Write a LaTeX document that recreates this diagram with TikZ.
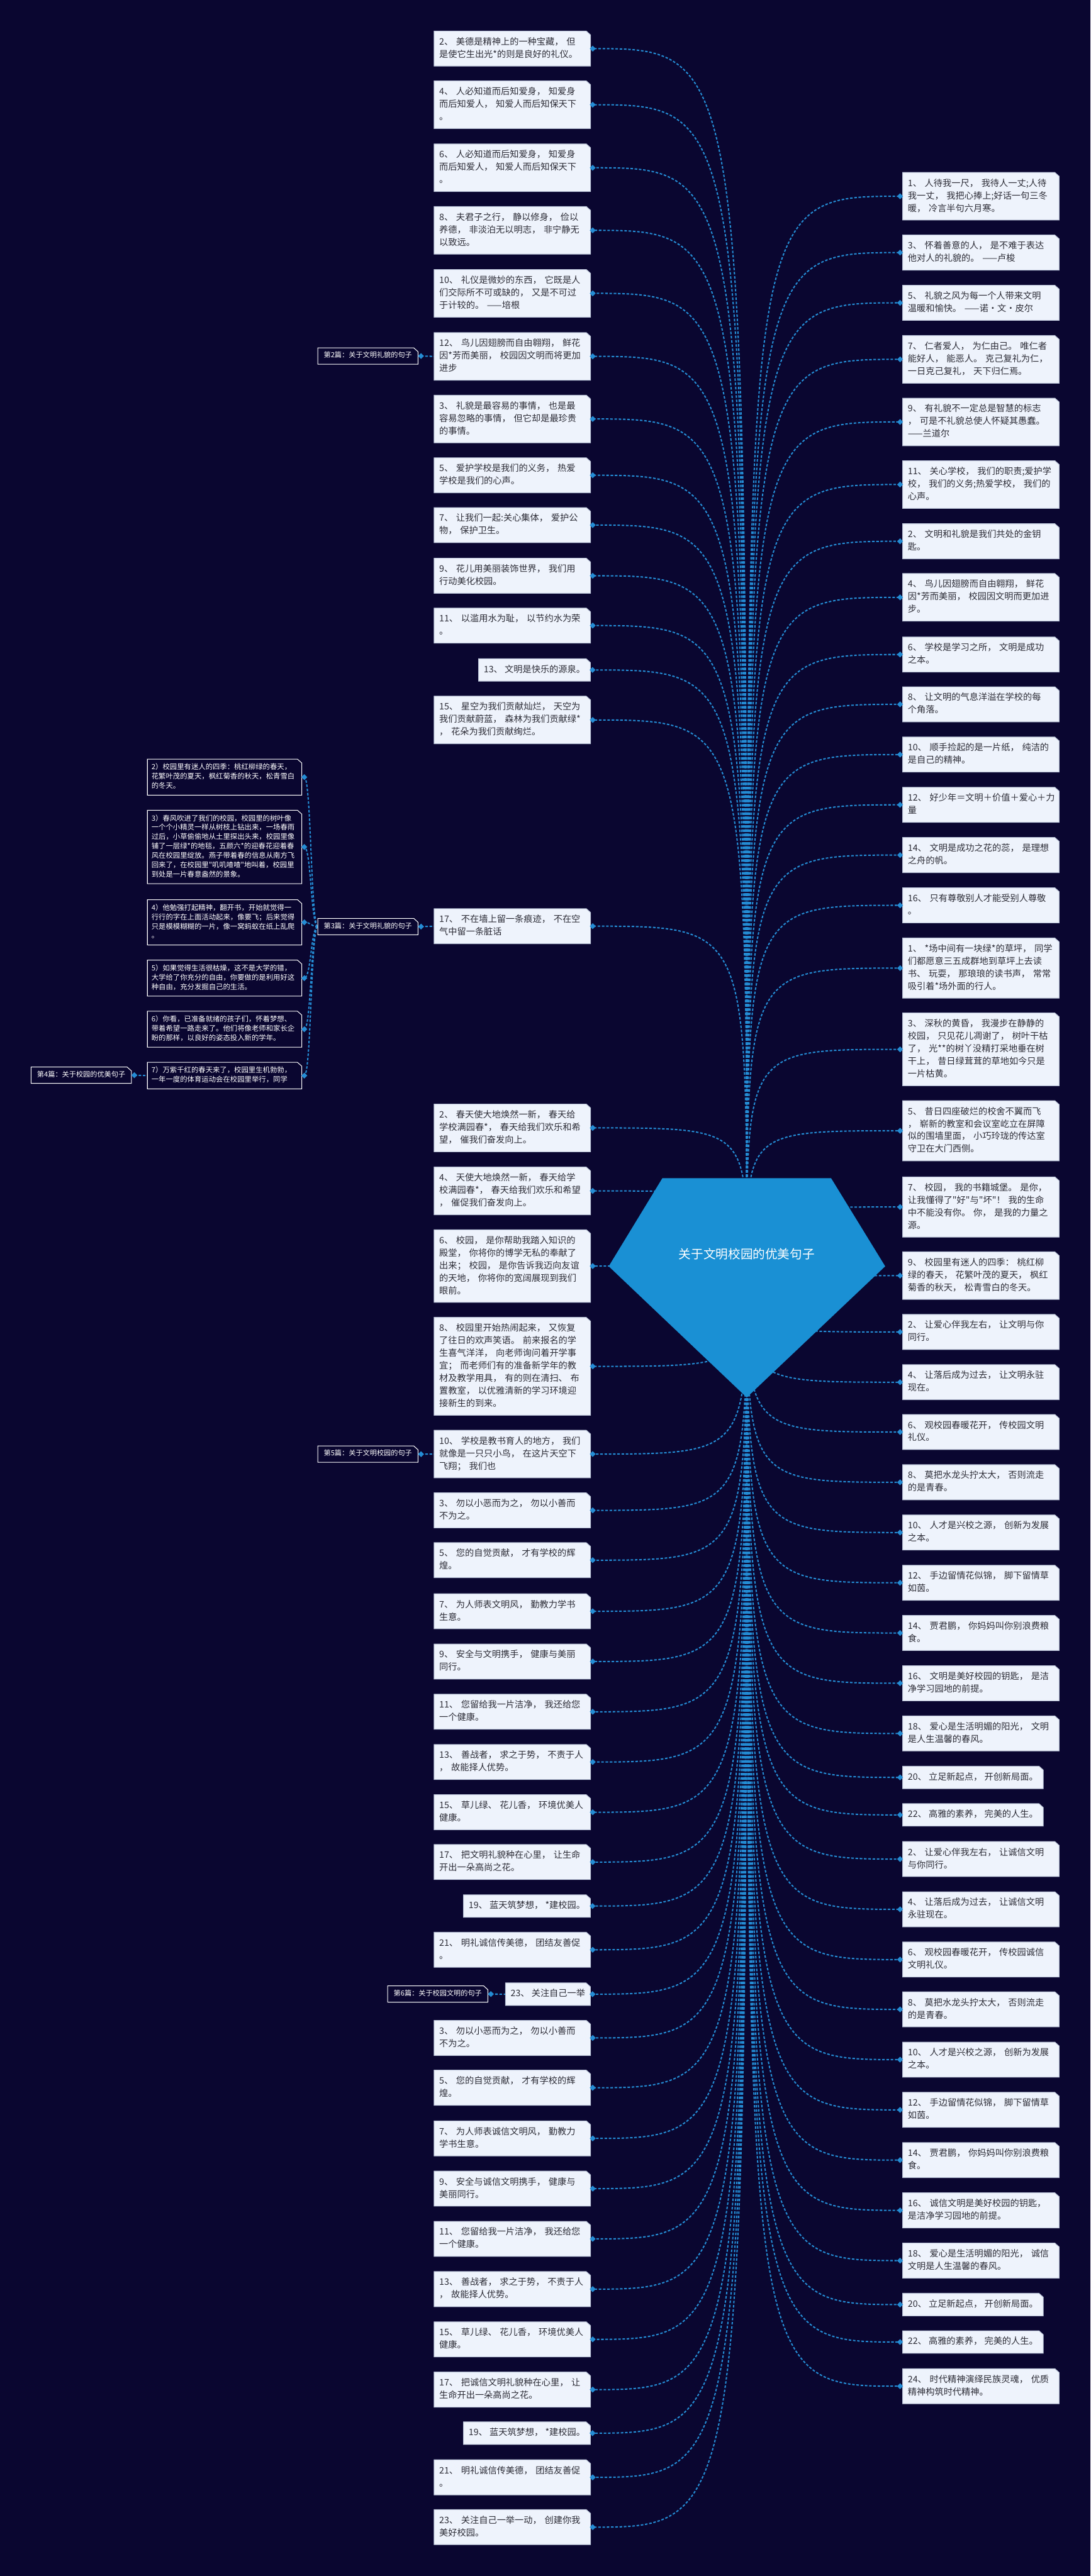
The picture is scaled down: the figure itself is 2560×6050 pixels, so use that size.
\documentclass[tikz,border=0pt]{standalone}
\usepackage{fontspec}
\newfontfamily\cjk{Noto Sans CJK SC}
\usetikzlibrary{shapes.geometric,calc}
\definecolor{bgc}{RGB}{10,6,48}
\definecolor{lineblue}{RGB}{36,140,212}
\definecolor{boxfill}{RGB}{238,243,252}
\definecolor{boxline}{RGB}{185,195,215}
\definecolor{txt}{RGB}{45,45,55}
\definecolor{gem}{RGB}{26,144,212}
\pgfdeclarelayer{bglayer}\pgfdeclarelayer{lines}\pgfdeclarelayer{boxes}
\pgfsetlayers{bglayer,lines,boxes,main}
\tikzset{
 lbox/.style={inner xsep=12pt, inner ysep=11.5pt, text=txt, font=\cjk\fontsize{21}{29.5}\selectfont, execute at begin node=\strut, execute at end node=\strut},
 kbox/.style={inner xsep=9.5pt, inner ysep=9pt, text=white, font=\cjk\fontsize{16.8}{22}\selectfont, execute at begin node=\strut, execute at end node=\strut},
 gbox/.style={inner xsep=10pt, inner ysep=9pt, text=white, minimum width=235pt, font=\cjk\fontsize{16.5}{20}\selectfont, execute at begin node=\strut},
 dia/.style={diamond, fill=lineblue, minimum width=14pt, minimum height=14pt, inner sep=0pt},
 conn/.style={draw=lineblue, line width=3pt, dash pattern=on 6pt off 4pt}
}
\newcommand\notchbox[3]{\begin{pgfonlayer}{boxes}\filldraw[fill=#2,draw=#3,line width=1.5pt] (#1.south west) -- (#1.north west) -- ([xshift=-10pt]#1.north east) -- ([yshift=-9pt]#1.north east) -- (#1.south east) -- cycle;\end{pgfonlayer}}
\newcommand\mkL[3]{%
 \node[lbox,text width=343pt,align=left,anchor=north west] (#1) at (1019,-#2) {#3};
 \notchbox{#1}{boxfill}{boxline}
 \node[dia] (d#1) at ([xshift=5pt]#1.east) {};
 \begin{pgfonlayer}{lines}\draw[conn] (C) .. controls (C |- d#1) .. (d#1.center);\end{pgfonlayer}}
\newcommand\mkLs[3]{%
 \node[lbox,anchor=north east] (#1) at (1386,-#2) {#3};
 \notchbox{#1}{boxfill}{boxline}
 \node[dia] (d#1) at ([xshift=5pt]#1.east) {};
 \begin{pgfonlayer}{lines}\draw[conn] (C) .. controls (C |- d#1) .. (d#1.center);\end{pgfonlayer}}
\newcommand\mkR[3]{%
 \node[lbox,text width=343pt,align=left,anchor=north west] (#1) at (2119,-#2) {#3};
 \notchbox{#1}{boxfill}{boxline}
 \node[dia] (d#1) at ([xshift=-6pt]#1.west) {};
 \begin{pgfonlayer}{lines}\draw[conn] (C) .. controls (C |- d#1) .. (d#1.center);\end{pgfonlayer}}
\newcommand\mkRs[3]{%
 \node[lbox,anchor=north west] (#1) at (2119,-#2) {#3};
 \notchbox{#1}{boxfill}{boxline}
 \node[dia] (d#1) at ([xshift=-6pt]#1.west) {};
 \begin{pgfonlayer}{lines}\draw[conn] (C) .. controls (C |- d#1) .. (d#1.center);\end{pgfonlayer}}
\newcommand\mkK[3]{%
 \node[kbox,text width=343pt,align=left,anchor=north west] (#1) at (346,-#2) {#3};
 \notchbox{#1}{bgc}{white}
 \node[dia] (d#1) at ([xshift=6pt]#1.east) {};
 \begin{pgfonlayer}{lines}\draw[conn] (G3.west) .. controls +(-16,0) and +(16,0) .. (d#1.center);\end{pgfonlayer}}
\newcommand\mkG[5]{%
 \node[gbox,anchor=north west] (#1) at (#2,-#3) {#4};
 \notchbox{#1}{bgc}{white}
 \node[dia] (d#1) at ([xshift=7pt]#1.east) {};
 \begin{pgfonlayer}{lines}\draw[conn] (d#1.center) -- (#5.west);\end{pgfonlayer}}
\begin{document}
\begin{tikzpicture}[x=1pt,y=1pt]
\begin{pgfonlayer}{bglayer}\fill[bgc] (0,0) rectangle (2560,-6050);\end{pgfonlayer}
\useasboundingbox (0,0) rectangle (2560,-6050);
\coordinate (C) at (1753,-2974);
% left column
\mkL{L1}{73}{2、 美德是精神上的一种宝藏， 但\\是使它生出光*的则是良好的礼仪。}
\mkL{L2}{190}{4、 人必知道而后知爱身， 知爱身\\而后知爱人， 知爱人而后知保天下\\。}
\mkL{L3}{338}{6、 人必知道而后知爱身， 知爱身\\而后知爱人， 知爱人而后知保天下\\。}
\mkL{L4}{485}{8、 夫君子之行， 静以修身， 俭以\\养德， 非淡泊无以明志， 非宁静无\\以致远。}
\mkL{L5}{633}{10、 礼仪是微妙的东西， 它既是人\\们交际所不可或缺的， 又是不可过\\于计较的。 ——培根}
\mkL{L6}{781}{12、 鸟儿因翅膀而自由翱翔， 鲜花\\因*芳而美丽， 校园因文明而将更加\\进步}
\mkL{L7}{928}{3、 礼貌是最容易的事情， 也是最\\容易忽略的事情， 但它却是最珍贵\\的事情。}
\mkL{L8}{1075}{5、 爱护学校是我们的义务， 热爱\\学校是我们的心声。}
\mkL{L9}{1192}{7、 让我们一起:关心集体， 爱护公\\物， 保护卫生。}
\mkL{L10}{1311}{9、 花儿用美丽装饰世界， 我们用\\行动美化校园。}
\mkL{L11}{1428}{11、 以滥用水为耻， 以节约水为荣\\。}
\mkLs{L12}{1547}{13、 文明是快乐的源泉。}
\mkL{L13}{1635}{15、 星空为我们贡献灿烂， 天空为\\我们贡献蔚蓝， 森林为我们贡献绿*\\， 花朵为我们贡献绚烂。}
\mkL{L14}{2134}{17、 不在墙上留一条痕迹， 不在空\\气中留一条脏话}
\mkL{L15}{2593}{2、 春天使大地焕然一新， 春天给\\学校满园春*， 春天给我们欢乐和希\\望， 催我们奋发向上。}
\mkL{L16}{2741}{4、 天使大地焕然一新， 春天给学\\校满园春*， 春天给我们欢乐和希望\\， 催促我们奋发向上。}
\mkL{L17}{2888}{6、 校园， 是你帮助我踏入知识的\\殿堂， 你将你的博学无私的奉献了\\出来； 校园， 是你告诉我迈向友谊\\的天地， 你将你的宽阔展现到我们\\眼前。}
\mkL{L18}{3094}{8、 校园里开始热闹起来， 又恢复\\了往日的欢声笑语。 前来报名的学\\生喜气洋洋， 向老师询问着开学事\\宜； 而老师们有的准备新学年的教\\材及教学用具， 有的则在清扫、 布\\置教室， 以优雅清新的学习环境迎\\接新生的到来。}
\mkL{L19}{3359}{10、 学校是教书育人的地方， 我们\\就像是一只只小鸟， 在这片天空下\\飞翔； 我们也}
\mkL{L20}{3506}{3、 勿以小恶而为之， 勿以小善而\\不为之。}
\mkL{L21}{3623}{5、 您的自觉贡献， 才有学校的辉\\煌。}
\mkL{L22}{3743}{7、 为人师表文明风， 勤教力学书\\生意。}
\mkL{L23}{3861}{9、 安全与文明携手， 健康与美丽\\同行。}
\mkL{L24}{3979}{11、 您留给我一片洁净， 我还给您\\一个健康。}
\mkL{L25}{4097}{13、 善战者， 求之于势， 不责于人\\， 故能择人优势。}
\mkL{L26}{4215}{15、 草儿绿、 花儿香， 环境优美人\\健康。}
\mkL{L27}{4332}{17、 把文明礼貌种在心里， 让生命\\开出一朵高尚之花。}
\mkLs{L28}{4450}{19、 蓝天筑梦想， *建校园。}
\mkL{L29}{4538}{21、 明礼诚信传美德， 团结友善促\\*。}
\mkLs{L30}{4657}{23、 关注自己一举}
\mkL{L31}{4745}{3、 勿以小恶而为之， 勿以小善而\\不为之。}
\mkL{L32}{4862}{5、 您的自觉贡献， 才有学校的辉\\煌。}
\mkL{L33}{4981}{7、 为人师表诚信文明风， 勤教力\\学书生意。}
\mkL{L34}{5099}{9、 安全与诚信文明携手， 健康与\\美丽同行。}
\mkL{L35}{5217}{11、 您留给我一片洁净， 我还给您\\一个健康。}
\mkL{L36}{5335}{13、 善战者， 求之于势， 不责于人\\， 故能择人优势。}
\mkL{L37}{5453}{15、 草儿绿、 花儿香， 环境优美人\\健康。}
\mkL{L38}{5571}{17、 把诚信文明礼貌种在心里， 让\\生命开出一朵高尚之花。}
\mkLs{L39}{5688}{19、 蓝天筑梦想， *建校园。}
\mkL{L40}{5777}{21、 明礼诚信传美德， 团结友善促\\*。}
\mkL{L41}{5894}{23、 关注自己一举一动， 创建你我\\美好校园。}
% right column
\mkR{R1}{405}{1、 人待我一尺， 我待人一丈;人待\\我一丈， 我把心捧上;好话一句三冬\\暖， 冷言半句六月寒。}
\mkR{R2}{552}{3、 怀着善意的人， 是不难于表达\\他对人的礼貌的。 ——卢梭}
\mkR{R3}{670}{5、 礼貌之风为每一个人带来文明\\温暖和愉快。 ——诺·文·皮尔}
\mkR{R4}{788}{7、 仁者爱人， 为仁由己。 唯仁者\\能好人， 能恶人。 克己复礼为仁，\\一日克己复礼， 天下归仁焉。}
\mkR{R5}{935}{9、 有礼貌不一定总是智慧的标志\\， 可是不礼貌总使人怀疑其愚蠢。\\——兰道尔}
\mkR{R6}{1082}{11、 关心学校， 我们的职责;爱护学\\校， 我们的义务;热爱学校， 我们的\\心声。}
\mkR{R7}{1230}{2、 文明和礼貌是我们共处的金钥\\匙。}
\mkR{R8}{1347}{4、 鸟儿因翅膀而自由翱翔， 鲜花\\因*芳而美丽， 校园因文明而更加进\\步。}
\mkR{R9}{1496}{6、 学校是学习之所， 文明是成功\\之本。}
\mkR{R10}{1613}{8、 让文明的气息洋溢在学校的每\\个角落。}
\mkR{R11}{1731}{10、 顺手捡起的是一片纸， 纯洁的\\是自己的精神。}
\mkR{R12}{1849}{12、~好少年＝文明＋价值＋爱心＋力\\量}
\mkR{R13}{1967}{14、 文明是成功之花的蕊， 是理想\\之舟的帆。}
\mkR{R14}{2085}{16、 只有尊敬别人才能受别人尊敬\\。}
\mkR{R15}{2203}{1、 *场中间有一块绿*的草坪， 同学\\们都愿意三五成群地到草坪上去读\\书、 玩耍， 那琅琅的读书声， 常常\\吸引着*场外面的行人。}
\mkR{R16}{2379}{3、 深秋的黄昏， 我漫步在静静的\\校园， 只见花儿凋谢了， 树叶干枯\\了， 光**的树丫没精打采地垂在树\\干上， 昔日绿茸茸的草地如今只是\\一片枯黄。}
\mkR{R17}{2585}{5、 昔日四座破烂的校舍不翼而飞\\， 崭新的教室和会议室屹立在屏障\\似的围墙里面， 小巧玲珑的传达室\\守卫在大门西侧。}
\mkR{R18}{2764}{7、 校园， 我的书籍城堡。 是你，\\让我懂得了"好"与"坏"！ 我的生命\\中不能没有你。 你， 是我的力量之\\源。}
\mkR{R19}{2940}{9、 校园里有迷人的四季： 桃红柳\\绿的春天， 花繁叶茂的夏天， 枫红\\菊香的秋天， 松青雪白的冬天。}
\mkR{R20}{3087}{2、 让爱心伴我左右， 让文明与你\\同行。}
\mkR{R21}{3205}{4、 让落后成为过去， 让文明永驻\\现在。}
\mkR{R22}{3322}{6、 观校园春暖花开， 传校园文明\\礼仪。}
\mkR{R23}{3440}{8、 莫把水龙头拧太大， 否则流走\\的是青春。}
\mkR{R24}{3558}{10、 人才是兴校之源， 创新为发展\\之本。}
\mkR{R25}{3676}{12、 手边留情花似锦， 脚下留情草\\如茵。}
\mkR{R26}{3794}{14、 贾君鹏， 你妈妈叫你别浪费粮\\食。}
\mkR{R27}{3912}{16、 文明是美好校园的钥匙， 是洁\\净学习园地的前提。}
\mkR{R28}{4030}{18、 爱心是生活明媚的阳光， 文明\\是人生温馨的春风。}
\mkRs{R29}{4148}{20、 立足新起点， 开创新局面。}
\mkRs{R30}{4236}{22、 高雅的素养， 完美的人生。}
\mkR{R31}{4325}{2、 让爱心伴我左右， 让诚信文明\\与你同行。}
\mkR{R32}{4443}{4、 让落后成为过去， 让诚信文明\\永驻现在。}
\mkR{R33}{4561}{6、 观校园春暖花开， 传校园诚信\\文明礼仪。}
\mkR{R34}{4678}{8、 莫把水龙头拧太大， 否则流走\\的是青春。}
\mkR{R35}{4796}{10、 人才是兴校之源， 创新为发展\\之本。}
\mkR{R36}{4914}{12、 手边留情花似锦， 脚下留情草\\如茵。}
\mkR{R37}{5032}{14、 贾君鹏， 你妈妈叫你别浪费粮\\食。}
\mkR{R38}{5150}{16、 诚信文明是美好校园的钥匙，\\是洁净学习园地的前提。}
\mkR{R39}{5268}{18、 爱心是生活明媚的阳光， 诚信\\文明是人生温馨的春风。}
\mkRs{R40}{5386}{20、 立足新起点， 开创新局面。}
\mkRs{R41}{5474}{22、 高雅的素养， 完美的人生。}
\mkR{R42}{5563}{24、 时代精神演绎民族灵魂， 优质\\精神构筑时代精神。}
% section labels
\mkG{G2}{746}{817}{第2篇：关于文明礼貌的句子}{L6}
\mkG{G3}{746}{2157}{第3篇：关于文明礼貌的句子}{L14}
\mkG{G5}{746}{3396}{第5篇：关于文明校园的句子}{L19}
\mkG{G6}{910}{4664}{第6篇：关于校园文明的句子}{L30}
% cluster under 第3篇
\mkK{K2}{1783}{2）校园里有迷人的四季：桃红柳绿的春天，\\花繁叶茂的夏天，枫红菊香的秋天，松青雪白\\的冬天。}
\mkK{K3}{1903}{3）春风吹进了我们的校园，校园里的树叶像\\一个个小精灵一样从树枝上钻出来，一场春雨\\过后，小草偷偷地从土里探出头来，校园里像\\铺了一层绿*的地毯，五颜六*的迎春花迎着春\\风在校园里绽放。燕子带着春的信息从南方飞\\回来了，在校园里"叽叽喳喳"地叫着，校园里\\到处是一片春意盎然的景象。}
\mkK{K4}{2113}{4）他勉强打起精神，翻开书，开始就觉得一\\行行的字在上面活动起来，像要飞；后来觉得\\只是模模糊糊的一片，像一窝蚂蚁在纸上乱爬\\。}
\mkK{K5}{2255}{5）如果觉得生活很枯燥，这不是大学的错，\\大学给了你充分的自由，你要做的是利用好这\\种自由，充分发掘自己的生活。}
\mkK{K6}{2375}{6）你看，已准备就绪的孩子们，怀着梦想、\\带着希望一路走来了。他们将像老师和家长企\\盼的那样，以良好的姿态投入新的学年。}
\mkK{K7}{2495}{7）万紫千红的春天来了，校园里生机勃勃，\\一年一度的体育运动会在校园里举行，同学}
\mkG{G4}{73}{2506}{第4篇：关于校园的优美句子}{K7}
% center
\fill[gem] (1555,-2767) -- (1951,-2767) -- (2078,-2974) -- (1753,-3282) -- (1429,-2974) -- cycle;
\node[font=\cjk\fontsize{29}{34}\selectfont, text=white] (center) at (1753,-2945) {关于文明校园的优美句子};
\end{tikzpicture}
\end{document}
